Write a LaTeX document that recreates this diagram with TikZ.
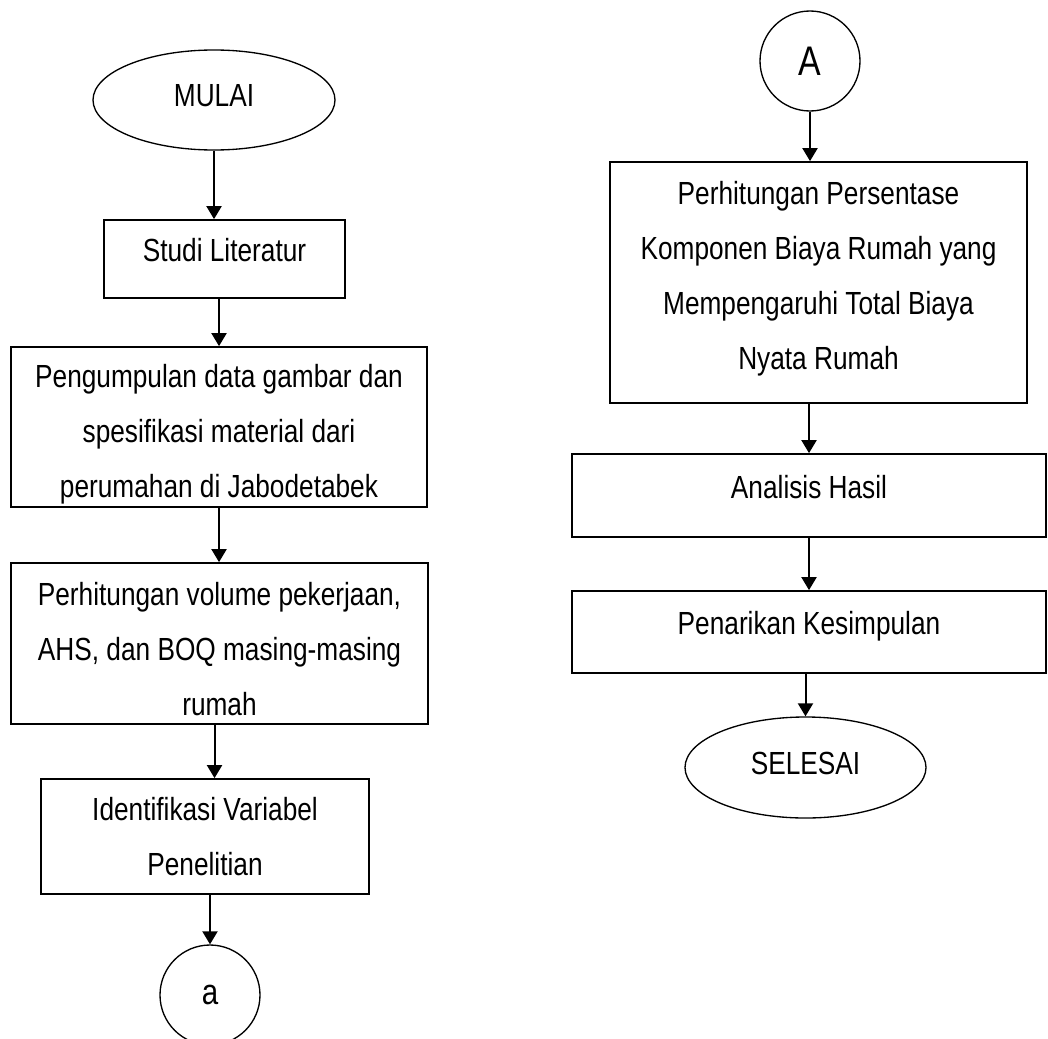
\documentclass[tikz,border=0pt]{standalone}
\usepackage{fontspec}
\setmainfont{Liberation Sans}[FakeStretch=0.82]
\usepackage{tikz}
\usetikzlibrary{
  arrows.meta,
  shapes.geometric,
  calc
}
\tikzset{
  % kotak proses
  flowbox/.style   = {draw=black, line width=1.3pt, rectangle, inner sep=0pt,
                      align=center, font=\fontsize{24}{41.25}\selectfont},
  onebox/.style    = {flowbox, text depth=13pt},
  % mulai / selesai
  termnode/.style  = {draw=black, line width=1pt, ellipse, inner sep=0pt,
                      font=\fontsize{24}{28}\selectfont, text depth=7pt},
  % penghubung halaman
  connnode/.style  = {draw=black, line width=1pt, circle, inner sep=0pt,
                      minimum size=75pt},
  % panah
  flowarrow/.style = {-{Triangle[length=9.75pt,width=11.25pt]}, line width=1.5pt, black},
}

\begin{document}
\begin{tikzpicture}[x=0.75pt, y=-0.75pt]
  \useasboundingbox (0,0) rectangle (1048,1038);
  \clip (0,0) rectangle (1048,1038);
  % kolom kiri
  \node[termnode, minimum width=181.5pt, minimum height=75pt] (mulai) at (214,100) {MULAI};
  \node[onebox, minimum width=180.75pt, minimum height=58.5pt] (studi) at (224.5,259) {Studi Literatur};
  \node[flowbox, minimum width=312pt, minimum height=120pt] (kumpul) at (219,427)
    {\rule{0pt}{28pt}Pengumpulan data gambar dan\\spesifikasi material dari\\perumahan di Jabodetabek};
  \node[flowbox, minimum width=312.75pt, minimum height=120.75pt] (volume) at (219.5,643.5)
    {\rule{0pt}{25pt}Perhitungan volume pekerjaan,\\AHS, dan BOQ masing-masing\\rumah};
  \node[flowbox, minimum width=246pt, minimum height=86.25pt] (identif) at (205,836.5)
    {Identifikasi Variabel\\Penelitian};
  \node[connnode, font=\fontsize{27}{30}\selectfont] (kona) at (210,995) {a};
  % kolom kanan
  \node[connnode, font=\fontsize{31}{34}\selectfont] (konA) at (810,61) {A};
  \node[flowbox, minimum width=312.75pt, minimum height=180.75pt] (persen) at (818.5,282.5)
    {Perhitungan Persentase\\Komponen Biaya Rumah yang\\Mempengaruhi Total Biaya\\Nyata Rumah\rule[-11pt]{0pt}{0pt}};
  \node[onebox, minimum width=355.5pt, minimum height=62.25pt] (analisis) at (809,495.5) {Analisis Hasil};
  \node[onebox, minimum width=355.5pt, minimum height=61.5pt] (tarik) at (809,632) {Penarikan Kesimpulan};
  \node[termnode, minimum width=180.75pt, minimum height=75.75pt] (selesai) at (805.5,767.5) {SELESAI};
  % panah kiri
  \draw[flowarrow] (mulai.south) -- (mulai.south |- studi.north);
  \draw[flowarrow] (kumpul.north |- studi.south) -- (kumpul.north);
  \draw[flowarrow] (kumpul.south) -- (kumpul.south |- volume.north);
  \draw[flowarrow] ($(volume.south)+(-5,0)$) -- ($(volume.south |- identif.north)+(-5,0)$);
  \draw[flowarrow] (kona.north |- identif.south) -- (kona.north);
  % panah kanan
  \draw[flowarrow] (konA.south) -- (konA.south |- persen.north);
  \draw[flowarrow] (analisis.north |- persen.south) -- (analisis.north);
  \draw[flowarrow] (analisis.south) -- (tarik.north);
  \draw[flowarrow] (selesai.north |- tarik.south) -- (selesai.north);
\end{tikzpicture}
\end{document}
